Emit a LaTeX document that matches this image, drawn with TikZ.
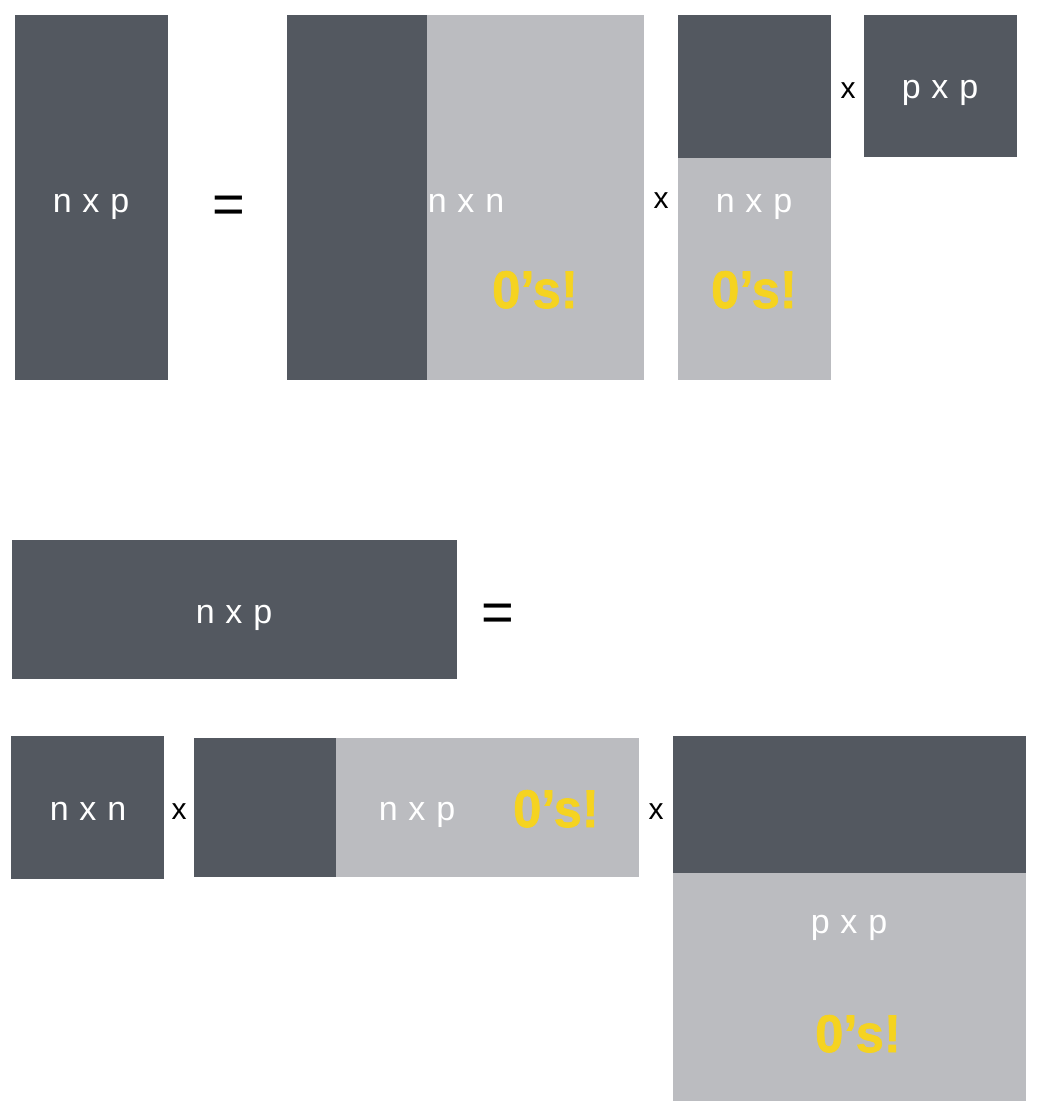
\documentclass[tikz,border=0pt]{standalone}
\usepackage{fontspec}
\setmainfont{Liberation Sans}
\newfontfamily\zerofont[FakeBold=1.2]{Liberation Sans Bold}
\usetikzlibrary{positioning}
\definecolor{darkblk}{HTML}{535860}
\definecolor{lightblk}{HTML}{BBBCC0}
\definecolor{zerocol}{HTML}{F5D320}
\tikzset{
  dk/.style={fill=darkblk, draw=none, inner sep=0pt, anchor=north west},
  lt/.style={fill=lightblk, draw=none, inner sep=0pt, anchor=north west},
  dimlabel/.style={text=white, font=\fontsize{34}{34}\selectfont\addfontfeatures{LetterSpace=4}, anchor=base, inner sep=0pt},
  zeros/.style={text=zerocol, font=\fontsize{53}{53}\zerofont, anchor=base, inner sep=0pt},
  timeslabel/.style={text=black, font=\fontsize{30}{30}\selectfont, anchor=base, inner sep=0pt},
  eqlabel/.style={text=black, font=\fontsize{56}{56}\selectfont, inner sep=0pt}
}
\begin{document}
\begin{tikzpicture}[x=1pt,y=-1pt]
\useasboundingbox (0,0) rectangle (1044,1116);
% ---- top row ----
\node[dk, minimum width=153pt, minimum height=365pt] (A) at (15,15) {};
\node[dimlabel] (Alab) at (91,212) {n x p};
\node[eqlabel] (eq1) at (229,210) {=};
\node[dk, minimum width=140pt, minimum height=365pt] (Bd) at (287,15) {};
\node[lt, minimum width=217pt, minimum height=365pt] (Bl) at (427,15) {};
\node[dimlabel] (Blab) at (466,212) {n x n};
\node[zeros] (Bz) at (535,308) {\scalebox{0.96}[1]{0’s!}};
\node[timeslabel] (x1) at (661,208) {x};
\node[dk, minimum width=153pt, minimum height=143pt] (Cd) at (678,15) {};
\node[lt, minimum width=153pt, minimum height=222pt] (Cl) at (678,158) {};
\node[dimlabel] (Clab) at (754,212) {n x p};
\node[zeros] (Cz) at (754,308) {\scalebox{0.96}[1]{0’s!}};
\node[timeslabel] (x2) at (848,98) {x};
\node[dk, minimum width=153pt, minimum height=142pt] (D) at (864,15) {};
\node[dimlabel] (Dlab) at (940,98) {p x p};
% ---- bottom ----
\node[dk, minimum width=445pt, minimum height=139pt] (E) at (12,540) {};
\node[dimlabel] (Elab) at (234,623) {n x p};
\node[eqlabel] (eq2) at (498,618) {=};
\node[dk, minimum width=153pt, minimum height=143pt] (F) at (11,736) {};
\node[dimlabel] (Flab) at (88,820) {n x n};
\node[timeslabel] (x3) at (179,819) {x};
\node[dk, minimum width=142pt, minimum height=139pt] (Gd) at (194,738) {};
\node[lt, minimum width=303pt, minimum height=139pt] (Gl) at (336,738) {};
\node[dimlabel] (Glab) at (417,820) {n x p};
\node[zeros] (Gz) at (556,827) {\scalebox{0.96}[1]{0’s!}};
\node[timeslabel] (x4) at (656,819) {x};
\node[dk, minimum width=353pt, minimum height=137pt] (Hd) at (673,736) {};
\node[lt, minimum width=353pt, minimum height=228pt] (Hl) at (673,873) {};
\node[dimlabel] (Hlab) at (849,933) {p x p};
\node[zeros] (Hz) at (858,1052) {\scalebox{0.96}[1]{0’s!}};
\end{tikzpicture}
\end{document}
